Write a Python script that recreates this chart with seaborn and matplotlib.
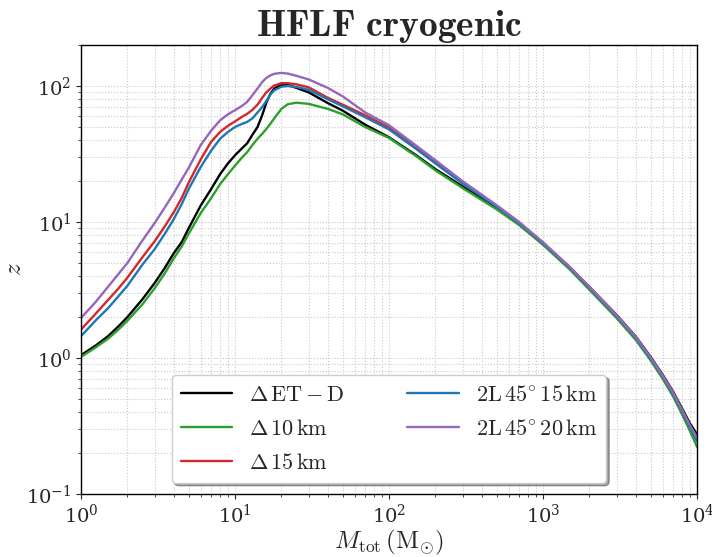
import numpy as np
import pandas as pd
import matplotlib
matplotlib.use("Agg")
import matplotlib.pyplot as plt
import seaborn as sns

# ---- data ----
M = [1, 1.25, 1.5, 1.75, 2, 2.5, 3, 3.5, 4, 4.5, 5, 6, 7, 8, 9, 10, 11, 12, 13, 14, 15, 16, 17, 18,
     20, 22, 25, 30, 40, 50, 70, 100, 150, 200, 300, 500, 700, 1000, 1500, 2000, 3000, 4000, 5000,
     6000, 7000, 8000, 9000, 10000]

z_etd = [1.05, 1.24, 1.45, 1.71, 2.0, 2.7, 3.55, 4.6, 5.9, 7.1, 9.0, 13.3, 17.5, 22.5, 27, 31, 34.5, 38,
         44, 50, 61, 76, 88, 96, 102, 102, 97, 90, 75, 66, 52, 42, 31, 24.5, 18.3, 12.7, 9.7, 7.0,
         4.62, 3.33, 2.08, 1.44, 1.02, 0.75, 0.565, 0.425, 0.33, 0.275]
z_d10 = [1.02, 1.2, 1.39, 1.62, 1.88, 2.48, 3.25, 4.2, 5.4, 6.6, 8.2, 11.7, 15, 19, 22.5, 26, 29.5, 32.7,
         37, 41, 44.5, 48.5, 53, 58, 68, 73.5, 75.5, 74, 68, 62, 50, 41.5, 30.5, 24, 17.8, 12.4, 9.5,
         6.8, 4.45, 3.18, 1.97, 1.36, 0.96, 0.70, 0.52, 0.385, 0.29, 0.222]
z_d15 = [1.62, 2.13, 2.68, 3.25, 3.9, 5.5, 7.2, 9.3, 11.8, 15.0, 19.5, 29, 39, 46, 51, 55, 59, 62.5,
         67, 73, 82, 90, 96, 101, 105, 105, 103, 98, 82, 73, 61, 49.5, 35, 27.5, 19.5, 13.1, 9.9,
         7.05, 4.6, 3.3, 2.05, 1.42, 1.0, 0.735, 0.55, 0.41, 0.313, 0.25]
z_l15 = [1.45, 1.9, 2.33, 2.85, 3.4, 4.85, 6.3, 8.2, 10.5, 13.5, 17.5, 25.5, 33.5, 41, 46, 50, 52.5, 54.5,
         58, 64, 70, 78, 87, 93, 99, 100, 98.5, 94, 80, 71, 59, 48, 34.5, 27, 19.2, 13.0, 9.8,
         7.0, 4.58, 3.28, 2.04, 1.41, 0.99, 0.73, 0.545, 0.405, 0.31, 0.245]
z_l20 = [1.97, 2.6, 3.35, 4.15, 5.0, 7.3, 9.8, 12.8, 16.3, 20.5, 25, 37, 47, 56, 62, 66.5, 71, 76.5,
         86, 96, 107, 115, 120, 123, 125, 123.5, 119, 112, 97, 84, 64, 51.5, 36.5, 28.5, 20.0, 13.3,
         10.0, 7.1, 4.65, 3.33, 2.07, 1.43, 1.01, 0.74, 0.555, 0.415, 0.32, 0.26]

labels = [r'$\Delta\,\mathrm{ET}-\mathrm{D}$',
          r'$\Delta\,10\,\mathrm{km}$',
          r'$\Delta\,15\,\mathrm{km}$',
          r'$\mathrm{2L}\,45^{\circ}\,15\,\mathrm{km}$',
          r'$\mathrm{2L}\,45^{\circ}\,20\,\mathrm{km}$']
series = [z_etd, z_d10, z_d15, z_l15, z_l20]
colors = ['black', '#2ca02c', '#d62728', '#1f77b4', '#9467bd']

rows = []
for lab, vals in zip(labels, series):
    for m, v in zip(M, vals):
        rows.append({'M': m, 'z': v, 'det': lab})
df = pd.DataFrame(rows)

# ---- style ----
sns.set_style("ticks")
plt.rcParams['mathtext.fontset'] = 'cm'
plt.rcParams['font.family'] = ['DejaVu Serif']

fig = plt.figure(figsize=(7.12, 5.57), dpi=100)
ax = fig.add_axes([0.1138, 0.113, 0.979 - 0.1138, 0.919 - 0.113])

sns.lineplot(data=df, x='M', y='z', hue='det', hue_order=labels,
             palette=dict(zip(labels, colors)), lw=1.7, ax=ax, legend=True)

ax.set_xscale('log')
ax.set_yscale('log')
ax.set_xlim(1, 1e4)
ax.set_ylim(0.1, 200)
ax.grid(True, which='both', ls=':', color='#c8c8c8', lw=0.8)
ax.set_axisbelow(True)

ax.tick_params(axis='both', which='major', labelsize=14)
for s in ax.spines.values():
    s.set_linewidth(1.0)
    s.set_color('black')

ax.set_xlabel(r'$M_{\rm tot}\,({\rm M}_{\odot})$', fontsize=18, labelpad=1)
ax.set_ylabel(r'$z$', fontsize=18, labelpad=0)
ax.set_title(r'$\mathbf{HFLF\ cryogenic}$', fontsize=27, pad=4)

handles, labs = ax.get_legend_handles_labels()
ax.legend(handles, labs, loc='lower center', ncol=2, fontsize=16,
          shadow=True, frameon=True, fancybox=True, framealpha=1,
          edgecolor='#cccccc', handlelength=2.3, columnspacing=2.8,
          labelspacing=0.55)

fig.savefig('out.png', dpi=100)
